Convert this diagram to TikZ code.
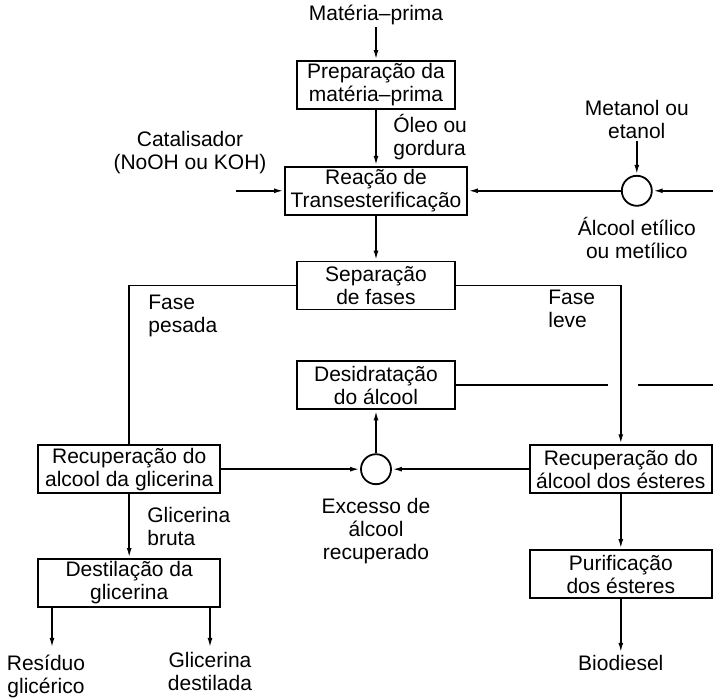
\documentclass[tikz,border=0pt]{standalone}
\usepackage{fontspec}
\setmainfont{Liberation Sans}
\usetikzlibrary{positioning,arrows.meta}

\begin{document}
\begin{tikzpicture}[x=0.5pt,y=-0.5pt,
            font=\fontsize{10.5}{11.5}\selectfont,
            procnode/.style={rectangle, draw=black, line width=0.9pt, minimum width=79pt, minimum height=24pt, inner sep=1pt, align=center},
            widenode/.style={procnode, minimum width=91pt},
            mixnode/.style={circle, draw=black, line width=0.9pt, minimum size=15pt, inner sep=0pt},
            labelnode/.style={inner sep=1pt, align=center},
            flow/.style={line width=0.9pt, -{Latex[length=5pt,width=2.4pt]}},
            line/.style={line width=0.9pt},
        ]
        \useasboundingbox (0,0) rectangle (713,699);

        % coluna central
        \node[procnode] (prep) at (376,85) {Preparação da\\matéria--prima};
        \node[widenode] (reacao) [below=28pt of prep] {Reação de\\Transesterificação};
        \node[procnode] (sep) [below=22.5pt of reacao] {Separação\\de fases};
        \node[procnode] (des) [below=25pt of sep] {Desidratação\\do álcool};
        \node[mixnode] (exc) [below=21.5pt of des] {};
        \node[widenode] (recglic) [left=69.5pt of exc] {Recuperação do\\alcool da glicerina};
        \node[widenode] (recest) [right=68.5pt of exc] {Recuperação do\\álcool dos ésteres};
        \node[widenode] (dest) [below=32pt of recglic] {Destilação da\\glicerina};
        \node[widenode] (purif) [below=27.5pt of recest] {Purificação\\dos ésteres};
        \node[mixnode] (alc) [right=76.5pt of reacao] {};

        % textos
        \node[labelnode] (materia) at (376,15) {Matéria--prima};
        \node[labelnode, anchor=west, align=left] (oleo) at (391,137) {Óleo ou\\gordura};
        \node[labelnode] (catal) at (190,153) {Catalisador\\(NoOH ou KOH)};
        \node[labelnode] (metanol) [above=17pt of alc] {Metanol ou\\etanol};
        \node[labelnode] (etilico) [below=4pt of alc] {Álcool etílico\\ou metílico};
        \node[labelnode, anchor=west, align=left] (pesada) at (146,316) {Fase\\pesada};
        \node[labelnode, anchor=west, align=left] (leve) at (546,309) {Fase\\leve};
        \node[labelnode] (excesso) [below=5.5pt of exc] {Excesso de\\álcool\\recuperado};
        \node[labelnode, anchor=west, align=left] (bruta) at (145,526) {Glicerina\\bruta};
        \node[labelnode] (residuo) at (46,676) {Resíduo\\glicérico};
        \node[labelnode] (glicd) at (210,671) {Glicerina\\destilada};
        \node[labelnode] (biodiesel) [below=27pt of purif] {Biodiesel};

        \coordinate (catin) at ([xshift=-24pt]reacao.west);
        \coordinate (metin) at (alc.east -| 713,0);
        \coordinate (gapl) at (des.east -| 608,0);
        \coordinate (gapr) at (des.east -| 638,0);
        \coordinate (desout) at (des.east -| 713,0);
        \coordinate (resin) at (52,648);
        \coordinate (glicin) at (210,648);

        \draw[flow] (materia) -- (prep);
        \draw[flow] (prep) -- (reacao);
        \draw[flow] (catin) -- (reacao.west);
        \draw[flow] (metin) -- (alc.east);
        \draw[flow] (metanol) -- (alc.north);
        \draw[flow] (alc.west) -- (reacao.east);
        \draw[flow] (reacao) -- (sep);

        \draw[line] (sep.west) -| (recglic.north);
        \draw[flow] (sep.east) -| (recest.north);

        \draw[line] (des.east) -- (gapl);
        \draw[line] (gapr) -- (desout);
        \draw[flow] (exc.north) -- (des.south);
        \draw[flow] (recglic.east) -- (exc.west);
        \draw[flow] (recest.west) -- (exc.east);

        \draw[flow] (recglic) -- (dest);
        \draw[flow] (dest.south -| resin) -- (resin);
        \draw[flow] (dest.south -| glicin) -- (glicin);
        \draw[flow] (recest) -- (purif);
        \draw[flow] (purif) -- (biodiesel);

    \end{tikzpicture}
\end{document}
